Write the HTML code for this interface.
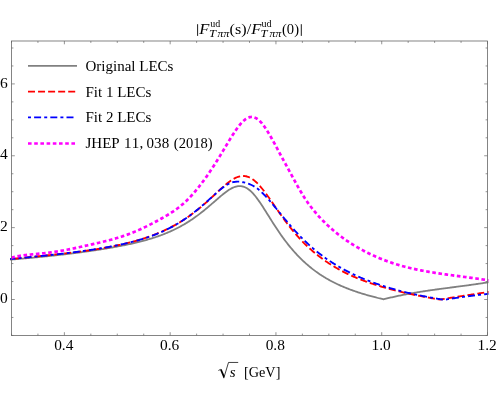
<!DOCTYPE html>
<html><head><meta charset="utf-8"><title>plot</title>
<style>
html,body{margin:0;padding:0;background:#fff;width:498px;height:400px;overflow:hidden;}
svg{display:block;font-family:"Liberation Serif",serif;will-change:transform;}
</style></head><body>
<svg width="498" height="400" viewBox="0 0 498 400">
<rect width="498" height="400" fill="#fff"/>
<defs><clipPath id="c"><rect x="10.1" y="41.0" width="478.4" height="294.5"/></clipPath></defs>
<g clip-path="url(#c)" fill="none" stroke-linejoin="round">
<path d="M10.0,259.65 L11.0,259.57 L12.0,259.49 L13.0,259.40 L14.0,259.32 L15.0,259.24 L16.0,259.15 L17.0,259.07 L18.0,258.98 L19.0,258.90 L20.0,258.81 L21.0,258.72 L22.0,258.64 L23.0,258.55 L24.0,258.46 L25.0,258.37 L26.0,258.28 L27.0,258.19 L28.0,258.10 L29.0,258.01 L30.0,257.92 L31.0,257.82 L32.0,257.73 L33.0,257.64 L34.0,257.54 L35.0,257.45 L36.0,257.35 L37.0,257.26 L38.0,257.16 L39.0,257.06 L40.0,256.96 L41.0,256.86 L42.0,256.77 L43.0,256.66 L44.0,256.56 L45.0,256.46 L46.0,256.36 L47.0,256.26 L48.0,256.15 L49.0,256.05 L50.0,255.94 L51.0,255.84 L52.0,255.73 L53.0,255.62 L54.0,255.51 L55.0,255.40 L56.0,255.29 L57.0,255.18 L58.0,255.07 L59.0,254.96 L60.0,254.85 L61.0,254.73 L62.0,254.62 L63.0,254.50 L64.0,254.38 L65.0,254.27 L66.0,254.15 L67.0,254.03 L68.0,253.91 L69.0,253.78 L70.0,253.66 L71.0,253.54 L72.0,253.41 L73.0,253.29 L74.0,253.16 L75.0,253.04 L76.0,252.91 L77.0,252.78 L78.0,252.65 L79.0,252.52 L80.0,252.39 L81.0,252.25 L82.0,252.12 L83.0,251.98 L84.0,251.85 L85.0,251.71 L86.0,251.57 L87.0,251.43 L88.0,251.29 L89.0,251.15 L90.0,251.00 L91.0,250.86 L92.0,250.71 L93.0,250.56 L94.0,250.42 L95.0,250.27 L96.0,250.12 L97.0,249.96 L98.0,249.81 L99.0,249.66 L100.0,249.50 L101.0,249.34 L102.0,249.18 L103.0,249.02 L104.0,248.86 L105.0,248.70 L106.0,248.53 L107.0,248.37 L108.0,248.20 L109.0,248.03 L110.0,247.86 L111.0,247.69 L112.0,247.51 L113.0,247.33 L114.0,247.16 L115.0,246.98 L116.0,246.80 L117.0,246.61 L118.0,246.43 L119.0,246.24 L120.0,246.05 L121.0,245.86 L122.0,245.66 L123.0,245.47 L124.0,245.27 L125.0,245.07 L126.0,244.86 L127.0,244.66 L128.0,244.45 L129.0,244.24 L130.0,244.02 L131.0,243.80 L132.0,243.58 L133.0,243.35 L134.0,243.12 L135.0,242.89 L136.0,242.66 L137.0,242.42 L138.0,242.17 L139.0,241.93 L140.0,241.67 L141.0,241.42 L142.0,241.16 L143.0,240.89 L144.0,240.62 L145.0,240.35 L146.0,240.07 L147.0,239.79 L148.0,239.50 L149.0,239.21 L150.0,238.91 L151.0,238.60 L152.0,238.29 L153.0,237.98 L154.0,237.65 L155.0,237.33 L156.0,236.99 L157.0,236.65 L158.0,236.30 L159.0,235.95 L160.0,235.59 L161.0,235.22 L162.0,234.85 L163.0,234.47 L164.0,234.08 L165.0,233.68 L166.0,233.27 L167.0,232.86 L168.0,232.44 L169.0,232.01 L170.0,231.57 L171.0,231.13 L172.0,230.67 L173.0,230.21 L174.0,229.73 L175.0,229.25 L176.0,228.76 L177.0,228.25 L178.0,227.74 L179.0,227.22 L180.0,226.68 L181.0,226.14 L182.0,225.58 L183.0,225.01 L184.0,224.44 L185.0,223.85 L186.0,223.25 L187.0,222.63 L188.0,222.01 L189.0,221.37 L190.0,220.73 L191.0,220.07 L192.0,219.40 L193.0,218.71 L194.0,218.02 L195.0,217.31 L196.0,216.59 L197.0,215.86 L198.0,215.12 L199.0,214.37 L200.0,213.60 L201.0,212.83 L202.0,212.04 L203.0,211.25 L204.0,210.44 L205.0,209.62 L206.0,208.80 L207.0,207.97 L208.0,207.12 L209.0,206.28 L210.0,205.42 L211.0,204.56 L212.0,203.69 L213.0,202.82 L214.0,201.95 L215.0,201.08 L216.0,200.20 L217.0,199.33 L218.0,198.46 L219.0,197.60 L220.0,196.75 L221.0,195.90 L222.0,195.07 L223.0,194.26 L224.0,193.46 L225.0,192.68 L226.0,191.93 L227.0,191.20 L228.0,190.51 L229.0,189.85 L230.0,189.23 L231.0,188.66 L232.0,188.13 L233.0,187.65 L234.0,187.23 L235.0,186.87 L236.0,186.56 L237.0,186.33 L238.0,186.17 L239.0,186.07 L240.0,186.06 L241.0,186.12 L242.0,186.27 L243.0,186.50 L244.0,186.82 L245.0,187.22 L246.0,187.71 L247.0,188.28 L248.0,188.94 L249.0,189.69 L250.0,190.52 L251.0,191.42 L252.0,192.41 L253.0,193.47 L254.0,194.59 L255.0,195.78 L256.0,197.04 L257.0,198.35 L258.0,199.70 L259.0,201.11 L260.0,202.56 L261.0,204.04 L262.0,205.55 L263.0,207.09 L264.0,208.65 L265.0,210.22 L266.0,211.81 L267.0,213.40 L268.0,215.00 L269.0,216.60 L270.0,218.20 L271.0,219.80 L272.0,221.38 L273.0,222.95 L274.0,224.52 L275.0,226.06 L276.0,227.59 L277.0,229.11 L278.0,230.60 L279.0,232.07 L280.0,233.53 L281.0,234.96 L282.0,236.37 L283.0,237.75 L284.0,239.12 L285.0,240.46 L286.0,241.78 L287.0,243.07 L288.0,244.34 L289.0,245.59 L290.0,246.82 L291.0,248.02 L292.0,249.20 L293.0,250.36 L294.0,251.50 L295.0,252.61 L296.0,253.71 L297.0,254.78 L298.0,255.83 L299.0,256.87 L300.0,257.88 L301.0,258.87 L302.0,259.85 L303.0,260.80 L304.0,261.74 L305.0,262.66 L306.0,263.56 L307.0,264.44 L308.0,265.30 L309.0,266.15 L310.0,266.98 L311.0,267.79 L312.0,268.59 L313.0,269.37 L314.0,270.14 L315.0,270.89 L316.0,271.62 L317.0,272.34 L318.0,273.05 L319.0,273.74 L320.0,274.41 L321.0,275.07 L322.0,275.72 L323.0,276.35 L324.0,276.97 L325.0,277.58 L326.0,278.18 L327.0,278.76 L328.0,279.33 L329.0,279.89 L330.0,280.44 L331.0,280.98 L332.0,281.51 L333.0,282.02 L334.0,282.53 L335.0,283.03 L336.0,283.52 L337.0,283.99 L338.0,284.46 L339.0,284.92 L340.0,285.38 L341.0,285.82 L342.0,286.26 L343.0,286.68 L344.0,287.10 L345.0,287.52 L346.0,287.92 L347.0,288.32 L348.0,288.71 L349.0,289.10 L350.0,289.47 L351.0,289.85 L352.0,290.21 L353.0,290.57 L354.0,290.93 L355.0,291.27 L356.0,291.62 L357.0,291.95 L358.0,292.28 L359.0,292.61 L360.0,292.93 L361.0,293.25 L362.0,293.56 L363.0,293.87 L364.0,294.17 L365.0,294.47 L366.0,294.76 L367.0,295.05 L368.0,295.34 L369.0,295.62 L370.0,295.90 L371.0,296.17 L372.0,296.44 L373.0,296.71 L374.0,296.97 L375.0,297.23 L376.0,297.49 L377.0,297.75 L378.0,298.00 L379.0,298.25 L380.0,298.49 L381.0,298.73 L382.0,298.97 L383.0,299.21 L383.5,299.33 L384.0,299.20 L385.0,298.95 L386.0,298.70 L387.0,298.45 L388.0,298.21 L389.0,297.97 L390.0,297.73 L391.0,297.49 L392.0,297.26 L393.0,297.03 L394.0,296.80 L395.0,296.58 L396.0,296.36 L397.0,296.14 L398.0,295.93 L399.0,295.71 L400.0,295.51 L401.0,295.30 L402.0,295.10 L403.0,294.90 L404.0,294.70 L405.0,294.50 L406.0,294.31 L407.0,294.12 L408.0,293.93 L409.0,293.75 L410.0,293.57 L411.0,293.39 L412.0,293.21 L413.0,293.04 L414.0,292.86 L415.0,292.69 L416.0,292.52 L417.0,292.36 L418.0,292.19 L419.0,292.03 L420.0,291.87 L421.0,291.71 L422.0,291.56 L423.0,291.40 L424.0,291.25 L425.0,291.10 L426.0,290.95 L427.0,290.80 L428.0,290.65 L429.0,290.50 L430.0,290.36 L431.0,290.21 L432.0,290.07 L433.0,289.93 L434.0,289.79 L435.0,289.65 L436.0,289.51 L437.0,289.37 L438.0,289.24 L439.0,289.10 L440.0,288.97 L441.0,288.83 L442.0,288.70 L443.0,288.56 L444.0,288.43 L445.0,288.30 L446.0,288.17 L447.0,288.03 L448.0,287.90 L449.0,287.77 L450.0,287.64 L451.0,287.51 L452.0,287.38 L453.0,287.25 L454.0,287.12 L455.0,286.99 L456.0,286.86 L457.0,286.73 L458.0,286.60 L459.0,286.47 L460.0,286.33 L461.0,286.20 L462.0,286.07 L463.0,285.94 L464.0,285.80 L465.0,285.67 L466.0,285.54 L467.0,285.40 L468.0,285.27 L469.0,285.13 L470.0,284.99 L471.0,284.86 L472.0,284.72 L473.0,284.58 L474.0,284.44 L475.0,284.30 L476.0,284.16 L477.0,284.01 L478.0,283.87 L479.0,283.72 L480.0,283.58 L481.0,283.43 L482.0,283.28 L483.0,283.13 L484.0,282.98 L485.0,282.82 L486.0,282.67 L487.0,282.51 L488.0,282.35 L489.0,282.20" stroke="#808080" stroke-width="1.8"/>
<path d="M10.0,259.11 L11.0,259.00 L12.0,258.90 L13.0,258.80 L14.0,258.69 L15.0,258.59 L16.0,258.49 L17.0,258.39 L18.0,258.29 L19.0,258.18 L20.0,258.08 L21.0,257.98 L22.0,257.88 L23.0,257.78 L24.0,257.68 L25.0,257.58 L26.0,257.48 L27.0,257.38 L28.0,257.28 L29.0,257.18 L30.0,257.08 L31.0,256.98 L32.0,256.88 L33.0,256.78 L34.0,256.68 L35.0,256.58 L36.0,256.48 L37.0,256.38 L38.0,256.28 L39.0,256.17 L40.0,256.07 L41.0,255.97 L42.0,255.87 L43.0,255.77 L44.0,255.67 L45.0,255.56 L46.0,255.46 L47.0,255.36 L48.0,255.26 L49.0,255.15 L50.0,255.05 L51.0,254.94 L52.0,254.84 L53.0,254.73 L54.0,254.63 L55.0,254.52 L56.0,254.41 L57.0,254.30 L58.0,254.19 L59.0,254.09 L60.0,253.98 L61.0,253.86 L62.0,253.75 L63.0,253.64 L64.0,253.53 L65.0,253.41 L66.0,253.30 L67.0,253.18 L68.0,253.07 L69.0,252.95 L70.0,252.83 L71.0,252.71 L72.0,252.59 L73.0,252.47 L74.0,252.35 L75.0,252.22 L76.0,252.10 L77.0,251.97 L78.0,251.84 L79.0,251.71 L80.0,251.58 L81.0,251.45 L82.0,251.32 L83.0,251.18 L84.0,251.05 L85.0,250.91 L86.0,250.77 L87.0,250.63 L88.0,250.49 L89.0,250.34 L90.0,250.20 L91.0,250.05 L92.0,249.90 L93.0,249.75 L94.0,249.60 L95.0,249.44 L96.0,249.29 L97.0,249.13 L98.0,248.97 L99.0,248.80 L100.0,248.64 L101.0,248.47 L102.0,248.30 L103.0,248.13 L104.0,247.96 L105.0,247.78 L106.0,247.60 L107.0,247.42 L108.0,247.24 L109.0,247.05 L110.0,246.86 L111.0,246.67 L112.0,246.47 L113.0,246.27 L114.0,246.07 L115.0,245.87 L116.0,245.66 L117.0,245.45 L118.0,245.24 L119.0,245.03 L120.0,244.81 L121.0,244.58 L122.0,244.36 L123.0,244.13 L124.0,243.89 L125.0,243.66 L126.0,243.42 L127.0,243.17 L128.0,242.92 L129.0,242.67 L130.0,242.42 L131.0,242.16 L132.0,241.89 L133.0,241.62 L134.0,241.35 L135.0,241.07 L136.0,240.79 L137.0,240.50 L138.0,240.21 L139.0,239.92 L140.0,239.61 L141.0,239.31 L142.0,239.00 L143.0,238.68 L144.0,238.36 L145.0,238.03 L146.0,237.70 L147.0,237.36 L148.0,237.02 L149.0,236.67 L150.0,236.31 L151.0,235.95 L152.0,235.58 L153.0,235.20 L154.0,234.82 L155.0,234.43 L156.0,234.04 L157.0,233.64 L158.0,233.23 L159.0,232.81 L160.0,232.39 L161.0,231.96 L162.0,231.52 L163.0,231.08 L164.0,230.62 L165.0,230.16 L166.0,229.69 L167.0,229.21 L168.0,228.73 L169.0,228.23 L170.0,227.73 L171.0,227.21 L172.0,226.69 L173.0,226.16 L174.0,225.62 L175.0,225.07 L176.0,224.51 L177.0,223.94 L178.0,223.36 L179.0,222.77 L180.0,222.17 L181.0,221.55 L182.0,220.93 L183.0,220.30 L184.0,219.65 L185.0,219.00 L186.0,218.33 L187.0,217.65 L188.0,216.97 L189.0,216.26 L190.0,215.55 L191.0,214.83 L192.0,214.09 L193.0,213.35 L194.0,212.59 L195.0,211.82 L196.0,211.03 L197.0,210.24 L198.0,209.44 L199.0,208.62 L200.0,207.80 L201.0,206.96 L202.0,206.11 L203.0,205.25 L204.0,204.38 L205.0,203.51 L206.0,202.62 L207.0,201.72 L208.0,200.82 L209.0,199.91 L210.0,198.99 L211.0,198.07 L212.0,197.14 L213.0,196.21 L214.0,195.27 L215.0,194.34 L216.0,193.40 L217.0,192.46 L218.0,191.53 L219.0,190.60 L220.0,189.68 L221.0,188.76 L222.0,187.85 L223.0,186.96 L224.0,186.08 L225.0,185.22 L226.0,184.37 L227.0,183.55 L228.0,182.76 L229.0,181.99 L230.0,181.26 L231.0,180.56 L232.0,179.89 L233.0,179.27 L234.0,178.69 L235.0,178.16 L236.0,177.68 L237.0,177.25 L238.0,176.88 L239.0,176.57 L240.0,176.32 L241.0,176.14 L242.0,176.02 L243.0,175.98 L244.0,176.00 L245.0,176.10 L246.0,176.27 L247.0,176.51 L248.0,176.83 L249.0,177.23 L250.0,177.69 L251.0,178.24 L252.0,178.85 L253.0,179.54 L254.0,180.29 L255.0,181.12 L256.0,182.00 L257.0,182.95 L258.0,183.95 L259.0,185.01 L260.0,186.13 L261.0,187.29 L262.0,188.49 L263.0,189.73 L264.0,191.01 L265.0,192.32 L266.0,193.67 L267.0,195.03 L268.0,196.42 L269.0,197.83 L270.0,199.25 L271.0,200.68 L272.0,202.13 L273.0,203.57 L274.0,205.02 L275.0,206.48 L276.0,207.93 L277.0,209.37 L278.0,210.81 L279.0,212.25 L280.0,213.67 L281.0,215.08 L282.0,216.48 L283.0,217.87 L284.0,219.25 L285.0,220.60 L286.0,221.95 L287.0,223.27 L288.0,224.58 L289.0,225.88 L290.0,227.15 L291.0,228.40 L292.0,229.64 L293.0,230.86 L294.0,232.06 L295.0,233.24 L296.0,234.40 L297.0,235.55 L298.0,236.67 L299.0,237.78 L300.0,238.87 L301.0,239.94 L302.0,240.99 L303.0,242.03 L304.0,243.04 L305.0,244.04 L306.0,245.02 L307.0,245.99 L308.0,246.94 L309.0,247.87 L310.0,248.78 L311.0,249.68 L312.0,250.56 L313.0,251.43 L314.0,252.28 L315.0,253.12 L316.0,253.95 L317.0,254.75 L318.0,255.55 L319.0,256.33 L320.0,257.10 L321.0,257.85 L322.0,258.59 L323.0,259.32 L324.0,260.04 L325.0,260.74 L326.0,261.43 L327.0,262.11 L328.0,262.78 L329.0,263.44 L330.0,264.08 L331.0,264.72 L332.0,265.34 L333.0,265.96 L334.0,266.56 L335.0,267.16 L336.0,267.74 L337.0,268.32 L338.0,268.88 L339.0,269.44 L340.0,269.98 L341.0,270.52 L342.0,271.05 L343.0,271.57 L344.0,272.08 L345.0,272.59 L346.0,273.08 L347.0,273.57 L348.0,274.05 L349.0,274.52 L350.0,274.99 L351.0,275.45 L352.0,275.90 L353.0,276.34 L354.0,276.78 L355.0,277.21 L356.0,277.64 L357.0,278.05 L358.0,278.47 L359.0,278.87 L360.0,279.27 L361.0,279.67 L362.0,280.06 L363.0,280.44 L364.0,280.82 L365.0,281.19 L366.0,281.56 L367.0,281.92 L368.0,282.28 L369.0,282.63 L370.0,282.98 L371.0,283.32 L372.0,283.66 L373.0,283.99 L374.0,284.32 L375.0,284.65 L376.0,284.97 L377.0,285.28 L378.0,285.60 L379.0,285.91 L380.0,286.21 L381.0,286.51 L382.0,286.81 L383.0,287.10 L384.0,287.39 L385.0,287.68 L386.0,287.96 L387.0,288.24 L388.0,288.52 L389.0,288.79 L390.0,289.06 L391.0,289.33 L392.0,289.59 L393.0,289.85 L394.0,290.11 L395.0,290.37 L396.0,290.62 L397.0,290.87 L398.0,291.12 L399.0,291.36 L400.0,291.60 L401.0,291.84 L402.0,292.08 L403.0,292.31 L404.0,292.54 L405.0,292.77 L406.0,293.00 L407.0,293.22 L408.0,293.45 L409.0,293.67 L410.0,293.89 L411.0,294.10 L412.0,294.32 L413.0,294.53 L414.0,294.74 L415.0,294.95 L416.0,295.15 L417.0,295.36 L418.0,295.56 L419.0,295.76 L420.0,295.96 L421.0,296.16 L422.0,296.35 L423.0,296.55 L424.0,296.74 L425.0,296.93 L426.0,297.12 L427.0,297.31 L428.0,297.49 L429.0,297.68 L430.0,297.86 L431.0,298.04 L432.0,298.22 L433.0,298.40 L434.0,298.57 L435.0,298.75 L436.0,298.92 L437.0,299.09 L438.0,299.26 L439.0,299.43 L440.0,299.60 L440.0,299.60 L441.0,299.43 L442.0,299.26 L443.0,299.09 L444.0,298.92 L445.0,298.75 L446.0,298.59 L447.0,298.42 L448.0,298.26 L449.0,298.10 L450.0,297.94 L451.0,297.77 L452.0,297.61 L453.0,297.45 L454.0,297.29 L455.0,297.13 L456.0,296.98 L457.0,296.82 L458.0,296.66 L459.0,296.51 L460.0,296.35 L461.0,296.19 L462.0,296.04 L463.0,295.88 L464.0,295.73 L465.0,295.57 L466.0,295.42 L467.0,295.26 L468.0,295.11 L469.0,294.95 L470.0,294.80 L471.0,294.65 L472.0,294.49 L473.0,294.34 L474.0,294.18 L475.0,294.03 L476.0,293.87 L477.0,293.72 L478.0,293.57 L479.0,293.41 L480.0,293.26 L481.0,293.10 L482.0,292.94 L483.0,292.79 L484.0,292.63 L485.0,292.47 L486.0,292.32 L487.0,292.16 L488.0,292.00 L489.0,291.84" stroke="#ff0000" stroke-width="1.85" stroke-dasharray="7 3" stroke-dashoffset="-4.5"/>
<path d="M10.0,259.03 L11.0,258.94 L12.0,258.84 L13.0,258.75 L14.0,258.66 L15.0,258.57 L16.0,258.47 L17.0,258.38 L18.0,258.29 L19.0,258.19 L20.0,258.10 L21.0,258.01 L22.0,257.91 L23.0,257.82 L24.0,257.72 L25.0,257.62 L26.0,257.53 L27.0,257.43 L28.0,257.34 L29.0,257.24 L30.0,257.14 L31.0,257.04 L32.0,256.94 L33.0,256.84 L34.0,256.75 L35.0,256.65 L36.0,256.54 L37.0,256.44 L38.0,256.34 L39.0,256.24 L40.0,256.14 L41.0,256.04 L42.0,255.93 L43.0,255.83 L44.0,255.72 L45.0,255.62 L46.0,255.51 L47.0,255.41 L48.0,255.30 L49.0,255.19 L50.0,255.08 L51.0,254.98 L52.0,254.87 L53.0,254.76 L54.0,254.64 L55.0,254.53 L56.0,254.42 L57.0,254.31 L58.0,254.19 L59.0,254.08 L60.0,253.96 L61.0,253.85 L62.0,253.73 L63.0,253.61 L64.0,253.49 L65.0,253.37 L66.0,253.25 L67.0,253.13 L68.0,253.01 L69.0,252.89 L70.0,252.76 L71.0,252.64 L72.0,252.51 L73.0,252.38 L74.0,252.25 L75.0,252.12 L76.0,251.99 L77.0,251.86 L78.0,251.73 L79.0,251.59 L80.0,251.46 L81.0,251.32 L82.0,251.18 L83.0,251.04 L84.0,250.90 L85.0,250.76 L86.0,250.62 L87.0,250.47 L88.0,250.33 L89.0,250.18 L90.0,250.03 L91.0,249.88 L92.0,249.73 L93.0,249.57 L94.0,249.42 L95.0,249.26 L96.0,249.10 L97.0,248.94 L98.0,248.78 L99.0,248.62 L100.0,248.45 L101.0,248.28 L102.0,248.11 L103.0,247.94 L104.0,247.77 L105.0,247.59 L106.0,247.42 L107.0,247.24 L108.0,247.05 L109.0,246.87 L110.0,246.68 L111.0,246.50 L112.0,246.30 L113.0,246.11 L114.0,245.92 L115.0,245.72 L116.0,245.52 L117.0,245.32 L118.0,245.11 L119.0,244.90 L120.0,244.69 L121.0,244.48 L122.0,244.26 L123.0,244.04 L124.0,243.82 L125.0,243.59 L126.0,243.36 L127.0,243.13 L128.0,242.89 L129.0,242.65 L130.0,242.41 L131.0,242.16 L132.0,241.91 L133.0,241.66 L134.0,241.39 L135.0,241.13 L136.0,240.86 L137.0,240.59 L138.0,240.31 L139.0,240.02 L140.0,239.73 L141.0,239.44 L142.0,239.14 L143.0,238.83 L144.0,238.52 L145.0,238.20 L146.0,237.88 L147.0,237.55 L148.0,237.21 L149.0,236.87 L150.0,236.52 L151.0,236.17 L152.0,235.80 L153.0,235.43 L154.0,235.06 L155.0,234.67 L156.0,234.28 L157.0,233.88 L158.0,233.47 L159.0,233.06 L160.0,232.63 L161.0,232.20 L162.0,231.76 L163.0,231.31 L164.0,230.86 L165.0,230.39 L166.0,229.91 L167.0,229.43 L168.0,228.93 L169.0,228.43 L170.0,227.92 L171.0,227.39 L172.0,226.86 L173.0,226.32 L174.0,225.76 L175.0,225.20 L176.0,224.63 L177.0,224.04 L178.0,223.44 L179.0,222.84 L180.0,222.22 L181.0,221.59 L182.0,220.95 L183.0,220.30 L184.0,219.64 L185.0,218.97 L186.0,218.28 L187.0,217.59 L188.0,216.88 L189.0,216.16 L190.0,215.43 L191.0,214.69 L192.0,213.94 L193.0,213.18 L194.0,212.40 L195.0,211.62 L196.0,210.82 L197.0,210.02 L198.0,209.20 L199.0,208.37 L200.0,207.54 L201.0,206.70 L202.0,205.84 L203.0,204.98 L204.0,204.11 L205.0,203.24 L206.0,202.35 L207.0,201.47 L208.0,200.57 L209.0,199.67 L210.0,198.77 L211.0,197.87 L212.0,196.96 L213.0,196.05 L214.0,195.14 L215.0,194.24 L216.0,193.34 L217.0,192.44 L218.0,191.56 L219.0,190.68 L220.0,189.83 L221.0,189.00 L222.0,188.19 L223.0,187.42 L224.0,186.67 L225.0,185.97 L226.0,185.31 L227.0,184.69 L228.0,184.12 L229.0,183.61 L230.0,183.16 L231.0,182.77 L232.0,182.45 L233.0,182.18 L234.0,181.97 L235.0,181.81 L236.0,181.71 L237.0,181.66 L238.0,181.65 L239.0,181.69 L240.0,181.78 L241.0,181.90 L242.0,182.06 L243.0,182.25 L244.0,182.46 L245.0,182.71 L246.0,182.98 L247.0,183.27 L248.0,183.59 L249.0,183.95 L250.0,184.34 L251.0,184.77 L252.0,185.24 L253.0,185.76 L254.0,186.32 L255.0,186.94 L256.0,187.60 L257.0,188.32 L258.0,189.08 L259.0,189.89 L260.0,190.74 L261.0,191.64 L262.0,192.57 L263.0,193.53 L264.0,194.53 L265.0,195.57 L266.0,196.63 L267.0,197.71 L268.0,198.82 L269.0,199.95 L270.0,201.10 L271.0,202.27 L272.0,203.45 L273.0,204.64 L274.0,205.84 L275.0,207.05 L276.0,208.27 L277.0,209.49 L278.0,210.71 L279.0,211.94 L280.0,213.16 L281.0,214.38 L282.0,215.61 L283.0,216.82 L284.0,218.03 L285.0,219.24 L286.0,220.44 L287.0,221.63 L288.0,222.81 L289.0,223.98 L290.0,225.14 L291.0,226.29 L292.0,227.43 L293.0,228.56 L294.0,229.68 L295.0,230.78 L296.0,231.87 L297.0,232.94 L298.0,234.01 L299.0,235.06 L300.0,236.09 L301.0,237.12 L302.0,238.13 L303.0,239.12 L304.0,240.10 L305.0,241.07 L306.0,242.03 L307.0,242.97 L308.0,243.89 L309.0,244.81 L310.0,245.71 L311.0,246.60 L312.0,247.47 L313.0,248.34 L314.0,249.18 L315.0,250.02 L316.0,250.85 L317.0,251.66 L318.0,252.46 L319.0,253.25 L320.0,254.02 L321.0,254.79 L322.0,255.54 L323.0,256.29 L324.0,257.02 L325.0,257.74 L326.0,258.45 L327.0,259.15 L328.0,259.83 L329.0,260.51 L330.0,261.18 L331.0,261.84 L332.0,262.49 L333.0,263.13 L334.0,263.76 L335.0,264.38 L336.0,264.99 L337.0,265.59 L338.0,266.19 L339.0,266.77 L340.0,267.35 L341.0,267.92 L342.0,268.48 L343.0,269.03 L344.0,269.57 L345.0,270.11 L346.0,270.64 L347.0,271.16 L348.0,271.67 L349.0,272.18 L350.0,272.68 L351.0,273.17 L352.0,273.66 L353.0,274.14 L354.0,274.61 L355.0,275.07 L356.0,275.53 L357.0,275.99 L358.0,276.43 L359.0,276.87 L360.0,277.31 L361.0,277.74 L362.0,278.16 L363.0,278.58 L364.0,278.99 L365.0,279.40 L366.0,279.80 L367.0,280.19 L368.0,280.58 L369.0,280.97 L370.0,281.35 L371.0,281.73 L372.0,282.10 L373.0,282.46 L374.0,282.82 L375.0,283.18 L376.0,283.53 L377.0,283.88 L378.0,284.22 L379.0,284.56 L380.0,284.90 L381.0,285.23 L382.0,285.55 L383.0,285.88 L384.0,286.19 L385.0,286.51 L386.0,286.82 L387.0,287.12 L388.0,287.43 L389.0,287.73 L390.0,288.02 L391.0,288.31 L392.0,288.60 L393.0,288.89 L394.0,289.17 L395.0,289.45 L396.0,289.72 L397.0,289.99 L398.0,290.26 L399.0,290.53 L400.0,290.79 L401.0,291.05 L402.0,291.30 L403.0,291.56 L404.0,291.81 L405.0,292.05 L406.0,292.30 L407.0,292.54 L408.0,292.78 L409.0,293.01 L410.0,293.25 L411.0,293.48 L412.0,293.70 L413.0,293.93 L414.0,294.15 L415.0,294.37 L416.0,294.59 L417.0,294.81 L418.0,295.02 L419.0,295.23 L420.0,295.44 L421.0,295.64 L422.0,295.85 L423.0,296.05 L424.0,296.25 L425.0,296.44 L426.0,296.64 L427.0,296.83 L428.0,297.02 L429.0,297.21 L430.0,297.39 L431.0,297.58 L432.0,297.76 L433.0,297.94 L434.0,298.12 L435.0,298.30 L436.0,298.47 L437.0,298.64 L438.0,298.81 L439.0,298.98 L440.0,299.15 L441.0,299.31 L442.0,299.48 L443.0,299.64 L444.0,299.80 L444.0,299.80 L445.0,299.64 L446.0,299.47 L447.0,299.31 L448.0,299.16 L449.0,299.00 L450.0,298.84 L451.0,298.69 L452.0,298.54 L453.0,298.39 L454.0,298.24 L455.0,298.09 L456.0,297.94 L457.0,297.80 L458.0,297.65 L459.0,297.51 L460.0,297.37 L461.0,297.23 L462.0,297.09 L463.0,296.95 L464.0,296.82 L465.0,296.68 L466.0,296.55 L467.0,296.42 L468.0,296.28 L469.0,296.15 L470.0,296.03 L471.0,295.90 L472.0,295.77 L473.0,295.64 L474.0,295.52 L475.0,295.40 L476.0,295.27 L477.0,295.15 L478.0,295.03 L479.0,294.91 L480.0,294.79 L481.0,294.68 L482.0,294.56 L483.0,294.45 L484.0,294.33 L485.0,294.22 L486.0,294.11 L487.0,293.99 L488.0,293.88 L489.0,293.77" stroke="#0000ff" stroke-width="1.85" stroke-dasharray="3 3.1 7 3.1" stroke-dashoffset="-8.5"/>
<path d="M10.0,257.94 L11.0,257.69 L12.0,257.44 L13.0,257.21 L14.0,256.98 L15.0,256.77 L16.0,256.57 L17.0,256.38 L18.0,256.19 L19.0,256.02 L20.0,255.86 L21.0,255.70 L22.0,255.55 L23.0,255.41 L24.0,255.27 L25.0,255.14 L26.0,255.02 L27.0,254.90 L28.0,254.78 L29.0,254.68 L30.0,254.57 L31.0,254.47 L32.0,254.37 L33.0,254.27 L34.0,254.17 L35.0,254.08 L36.0,253.99 L37.0,253.90 L38.0,253.80 L39.0,253.71 L40.0,253.62 L41.0,253.52 L42.0,253.43 L43.0,253.33 L44.0,253.23 L45.0,253.12 L46.0,253.01 L47.0,252.90 L48.0,252.78 L49.0,252.66 L50.0,252.53 L51.0,252.40 L52.0,252.26 L53.0,252.12 L54.0,251.98 L55.0,251.83 L56.0,251.67 L57.0,251.51 L58.0,251.35 L59.0,251.18 L60.0,251.01 L61.0,250.84 L62.0,250.66 L63.0,250.48 L64.0,250.30 L65.0,250.11 L66.0,249.92 L67.0,249.73 L68.0,249.53 L69.0,249.34 L70.0,249.14 L71.0,248.93 L72.0,248.73 L73.0,248.52 L74.0,248.31 L75.0,248.10 L76.0,247.89 L77.0,247.67 L78.0,247.45 L79.0,247.24 L80.0,247.02 L81.0,246.80 L82.0,246.58 L83.0,246.35 L84.0,246.13 L85.0,245.91 L86.0,245.68 L87.0,245.46 L88.0,245.23 L89.0,245.00 L90.0,244.78 L91.0,244.55 L92.0,244.32 L93.0,244.10 L94.0,243.87 L95.0,243.64 L96.0,243.41 L97.0,243.18 L98.0,242.95 L99.0,242.71 L100.0,242.48 L101.0,242.24 L102.0,242.00 L103.0,241.76 L104.0,241.51 L105.0,241.26 L106.0,241.01 L107.0,240.76 L108.0,240.51 L109.0,240.25 L110.0,239.98 L111.0,239.71 L112.0,239.44 L113.0,239.17 L114.0,238.89 L115.0,238.60 L116.0,238.31 L117.0,238.02 L118.0,237.72 L119.0,237.42 L120.0,237.11 L121.0,236.79 L122.0,236.47 L123.0,236.14 L124.0,235.80 L125.0,235.46 L126.0,235.11 L127.0,234.76 L128.0,234.39 L129.0,234.02 L130.0,233.64 L131.0,233.26 L132.0,232.86 L133.0,232.46 L134.0,232.05 L135.0,231.63 L136.0,231.21 L137.0,230.77 L138.0,230.34 L139.0,229.89 L140.0,229.44 L141.0,228.98 L142.0,228.52 L143.0,228.05 L144.0,227.58 L145.0,227.09 L146.0,226.61 L147.0,226.12 L148.0,225.62 L149.0,225.12 L150.0,224.61 L151.0,224.10 L152.0,223.59 L153.0,223.07 L154.0,222.54 L155.0,222.01 L156.0,221.48 L157.0,220.95 L158.0,220.41 L159.0,219.86 L160.0,219.31 L161.0,218.76 L162.0,218.21 L163.0,217.65 L164.0,217.08 L165.0,216.50 L166.0,215.92 L167.0,215.33 L168.0,214.73 L169.0,214.12 L170.0,213.49 L171.0,212.86 L172.0,212.21 L173.0,211.55 L174.0,210.87 L175.0,210.17 L176.0,209.46 L177.0,208.73 L178.0,207.98 L179.0,207.21 L180.0,206.42 L181.0,205.61 L182.0,204.78 L183.0,203.92 L184.0,203.03 L185.0,202.12 L186.0,201.19 L187.0,200.22 L188.0,199.23 L189.0,198.22 L190.0,197.18 L191.0,196.11 L192.0,195.02 L193.0,193.91 L194.0,192.77 L195.0,191.61 L196.0,190.42 L197.0,189.21 L198.0,187.98 L199.0,186.73 L200.0,185.45 L201.0,184.16 L202.0,182.84 L203.0,181.50 L204.0,180.15 L205.0,178.77 L206.0,177.38 L207.0,175.96 L208.0,174.52 L209.0,173.07 L210.0,171.59 L211.0,170.10 L212.0,168.59 L213.0,167.05 L214.0,165.50 L215.0,163.94 L216.0,162.35 L217.0,160.75 L218.0,159.14 L219.0,157.51 L220.0,155.87 L221.0,154.22 L222.0,152.56 L223.0,150.89 L224.0,149.22 L225.0,147.55 L226.0,145.88 L227.0,144.21 L228.0,142.54 L229.0,140.89 L230.0,139.25 L231.0,137.62 L232.0,136.02 L233.0,134.45 L234.0,132.90 L235.0,131.40 L236.0,129.93 L237.0,128.51 L238.0,127.15 L239.0,125.85 L240.0,124.61 L241.0,123.44 L242.0,122.35 L243.0,121.34 L244.0,120.43 L245.0,119.61 L246.0,118.89 L247.0,118.28 L248.0,117.77 L249.0,117.39 L250.0,117.12 L251.0,116.98 L252.0,116.96 L253.0,117.07 L254.0,117.31 L255.0,117.67 L256.0,118.15 L257.0,118.76 L258.0,119.48 L259.0,120.32 L260.0,121.27 L261.0,122.33 L262.0,123.48 L263.0,124.73 L264.0,126.07 L265.0,127.48 L266.0,128.97 L267.0,130.53 L268.0,132.14 L269.0,133.80 L270.0,135.51 L271.0,137.25 L272.0,139.02 L273.0,140.82 L274.0,142.64 L275.0,144.48 L276.0,146.32 L277.0,148.18 L278.0,150.04 L279.0,151.91 L280.0,153.77 L281.0,155.63 L282.0,157.49 L283.0,159.34 L284.0,161.19 L285.0,163.03 L286.0,164.87 L287.0,166.71 L288.0,168.55 L289.0,170.38 L290.0,172.22 L291.0,174.06 L292.0,175.90 L293.0,177.73 L294.0,179.57 L295.0,181.40 L296.0,183.22 L297.0,185.03 L298.0,186.82 L299.0,188.59 L300.0,190.33 L301.0,192.04 L302.0,193.72 L303.0,195.36 L304.0,196.95 L305.0,198.50 L306.0,200.01 L307.0,201.48 L308.0,202.91 L309.0,204.31 L310.0,205.67 L311.0,206.99 L312.0,208.28 L313.0,209.55 L314.0,210.78 L315.0,211.98 L316.0,213.15 L317.0,214.31 L318.0,215.43 L319.0,216.54 L320.0,217.62 L321.0,218.68 L322.0,219.73 L323.0,220.75 L324.0,221.76 L325.0,222.75 L326.0,223.73 L327.0,224.68 L328.0,225.62 L329.0,226.55 L330.0,227.46 L331.0,228.35 L332.0,229.23 L333.0,230.09 L334.0,230.94 L335.0,231.77 L336.0,232.59 L337.0,233.40 L338.0,234.19 L339.0,234.97 L340.0,235.74 L341.0,236.49 L342.0,237.24 L343.0,237.97 L344.0,238.69 L345.0,239.39 L346.0,240.09 L347.0,240.78 L348.0,241.45 L349.0,242.12 L350.0,242.77 L351.0,243.42 L352.0,244.05 L353.0,244.68 L354.0,245.29 L355.0,245.90 L356.0,246.49 L357.0,247.08 L358.0,247.66 L359.0,248.23 L360.0,248.79 L361.0,249.34 L362.0,249.89 L363.0,250.43 L364.0,250.95 L365.0,251.47 L366.0,251.99 L367.0,252.49 L368.0,252.99 L369.0,253.48 L370.0,253.96 L371.0,254.44 L372.0,254.91 L373.0,255.37 L374.0,255.82 L375.0,256.27 L376.0,256.71 L377.0,257.14 L378.0,257.57 L379.0,257.99 L380.0,258.40 L381.0,258.81 L382.0,259.21 L383.0,259.60 L384.0,259.99 L385.0,260.37 L386.0,260.75 L387.0,261.12 L388.0,261.48 L389.0,261.84 L390.0,262.19 L391.0,262.53 L392.0,262.87 L393.0,263.21 L394.0,263.53 L395.0,263.86 L396.0,264.17 L397.0,264.48 L398.0,264.79 L399.0,265.08 L400.0,265.38 L401.0,265.66 L402.0,265.95 L403.0,266.22 L404.0,266.49 L405.0,266.76 L406.0,267.02 L407.0,267.27 L408.0,267.52 L409.0,267.77 L410.0,268.01 L411.0,268.25 L412.0,268.48 L413.0,268.71 L414.0,268.93 L415.0,269.15 L416.0,269.37 L417.0,269.58 L418.0,269.79 L419.0,269.99 L420.0,270.19 L421.0,270.39 L422.0,270.58 L423.0,270.77 L424.0,270.96 L425.0,271.15 L426.0,271.33 L427.0,271.51 L428.0,271.68 L429.0,271.85 L430.0,272.02 L431.0,272.19 L432.0,272.36 L433.0,272.52 L434.0,272.68 L435.0,272.84 L436.0,273.00 L437.0,273.15 L438.0,273.30 L439.0,273.45 L440.0,273.60 L441.0,273.75 L442.0,273.90 L443.0,274.04 L444.0,274.18 L445.0,274.32 L446.0,274.46 L447.0,274.60 L448.0,274.74 L449.0,274.88 L450.0,275.01 L451.0,275.15 L452.0,275.28 L453.0,275.42 L454.0,275.55 L455.0,275.68 L456.0,275.82 L457.0,275.95 L458.0,276.08 L459.0,276.21 L460.0,276.34 L461.0,276.48 L462.0,276.61 L463.0,276.74 L464.0,276.87 L465.0,277.00 L466.0,277.13 L467.0,277.27 L468.0,277.40 L469.0,277.53 L470.0,277.67 L471.0,277.80 L472.0,277.94 L473.0,278.07 L474.0,278.21 L475.0,278.35 L476.0,278.49 L477.0,278.63 L478.0,278.77 L479.0,278.91 L480.0,279.06 L481.0,279.20 L482.0,279.35 L483.0,279.50 L484.0,279.65 L485.0,279.80 L486.0,279.95 L487.0,280.11 L488.0,280.27 L489.0,280.42" stroke="#ff00ff" stroke-width="2.7" stroke-dasharray="3.6 2.6" stroke-dashoffset="-1.4"/>
</g>
<g stroke="#666" stroke-width="0.7" fill="none">
<line x1="11.50" y1="335.5" x2="11.50" y2="333.6"/>
<line x1="11.50" y1="41.0" x2="11.50" y2="42.9"/>
<line x1="37.94" y1="335.5" x2="37.94" y2="333.6"/>
<line x1="37.94" y1="41.0" x2="37.94" y2="42.9"/>
<line x1="64.39" y1="335.5" x2="64.39" y2="332.2"/>
<line x1="64.39" y1="41.0" x2="64.39" y2="44.3"/>
<line x1="90.83" y1="335.5" x2="90.83" y2="333.6"/>
<line x1="90.83" y1="41.0" x2="90.83" y2="42.9"/>
<line x1="117.28" y1="335.5" x2="117.28" y2="333.6"/>
<line x1="117.28" y1="41.0" x2="117.28" y2="42.9"/>
<line x1="143.72" y1="335.5" x2="143.72" y2="333.6"/>
<line x1="143.72" y1="41.0" x2="143.72" y2="42.9"/>
<line x1="170.17" y1="335.5" x2="170.17" y2="332.2"/>
<line x1="170.17" y1="41.0" x2="170.17" y2="44.3"/>
<line x1="196.61" y1="335.5" x2="196.61" y2="333.6"/>
<line x1="196.61" y1="41.0" x2="196.61" y2="42.9"/>
<line x1="223.06" y1="335.5" x2="223.06" y2="333.6"/>
<line x1="223.06" y1="41.0" x2="223.06" y2="42.9"/>
<line x1="249.50" y1="335.5" x2="249.50" y2="333.6"/>
<line x1="249.50" y1="41.0" x2="249.50" y2="42.9"/>
<line x1="275.94" y1="335.5" x2="275.94" y2="332.2"/>
<line x1="275.94" y1="41.0" x2="275.94" y2="44.3"/>
<line x1="302.39" y1="335.5" x2="302.39" y2="333.6"/>
<line x1="302.39" y1="41.0" x2="302.39" y2="42.9"/>
<line x1="328.83" y1="335.5" x2="328.83" y2="333.6"/>
<line x1="328.83" y1="41.0" x2="328.83" y2="42.9"/>
<line x1="355.28" y1="335.5" x2="355.28" y2="333.6"/>
<line x1="355.28" y1="41.0" x2="355.28" y2="42.9"/>
<line x1="381.72" y1="335.5" x2="381.72" y2="332.2"/>
<line x1="381.72" y1="41.0" x2="381.72" y2="44.3"/>
<line x1="408.17" y1="335.5" x2="408.17" y2="333.6"/>
<line x1="408.17" y1="41.0" x2="408.17" y2="42.9"/>
<line x1="434.61" y1="335.5" x2="434.61" y2="333.6"/>
<line x1="434.61" y1="41.0" x2="434.61" y2="42.9"/>
<line x1="461.06" y1="335.5" x2="461.06" y2="333.6"/>
<line x1="461.06" y1="41.0" x2="461.06" y2="42.9"/>
<line x1="487.50" y1="335.5" x2="487.50" y2="332.2"/>
<line x1="487.50" y1="41.0" x2="487.50" y2="44.3"/>
<line x1="11.5" y1="335.43" x2="13.4" y2="335.43"/>
<line x1="487.5" y1="335.43" x2="485.6" y2="335.43"/>
<line x1="11.5" y1="317.46" x2="13.4" y2="317.46"/>
<line x1="487.5" y1="317.46" x2="485.6" y2="317.46"/>
<line x1="11.5" y1="299.50" x2="14.8" y2="299.50"/>
<line x1="487.5" y1="299.50" x2="484.2" y2="299.50"/>
<line x1="11.5" y1="281.54" x2="13.4" y2="281.54"/>
<line x1="487.5" y1="281.54" x2="485.6" y2="281.54"/>
<line x1="11.5" y1="263.57" x2="13.4" y2="263.57"/>
<line x1="487.5" y1="263.57" x2="485.6" y2="263.57"/>
<line x1="11.5" y1="245.61" x2="13.4" y2="245.61"/>
<line x1="487.5" y1="245.61" x2="485.6" y2="245.61"/>
<line x1="11.5" y1="227.64" x2="14.8" y2="227.64"/>
<line x1="487.5" y1="227.64" x2="484.2" y2="227.64"/>
<line x1="11.5" y1="209.68" x2="13.4" y2="209.68"/>
<line x1="487.5" y1="209.68" x2="485.6" y2="209.68"/>
<line x1="11.5" y1="191.71" x2="13.4" y2="191.71"/>
<line x1="487.5" y1="191.71" x2="485.6" y2="191.71"/>
<line x1="11.5" y1="173.75" x2="13.4" y2="173.75"/>
<line x1="487.5" y1="173.75" x2="485.6" y2="173.75"/>
<line x1="11.5" y1="155.78" x2="14.8" y2="155.78"/>
<line x1="487.5" y1="155.78" x2="484.2" y2="155.78"/>
<line x1="11.5" y1="137.81" x2="13.4" y2="137.81"/>
<line x1="487.5" y1="137.81" x2="485.6" y2="137.81"/>
<line x1="11.5" y1="119.85" x2="13.4" y2="119.85"/>
<line x1="487.5" y1="119.85" x2="485.6" y2="119.85"/>
<line x1="11.5" y1="101.88" x2="13.4" y2="101.88"/>
<line x1="487.5" y1="101.88" x2="485.6" y2="101.88"/>
<line x1="11.5" y1="83.92" x2="14.8" y2="83.92"/>
<line x1="487.5" y1="83.92" x2="484.2" y2="83.92"/>
<line x1="11.5" y1="65.96" x2="13.4" y2="65.96"/>
<line x1="487.5" y1="65.96" x2="485.6" y2="65.96"/>
<line x1="11.5" y1="47.99" x2="13.4" y2="47.99"/>
<line x1="487.5" y1="47.99" x2="485.6" y2="47.99"/>
</g>
<rect x="11.5" y="41.0" width="476.0" height="294.5" fill="none" stroke="#666" stroke-width="0.8"/>
<g fill="none">
<line x1="28" y1="65.9" x2="77" y2="65.9" stroke="#808080" stroke-width="1.8"/>
<line x1="28" y1="91.7" x2="75.3" y2="91.7" stroke="#ff0000" stroke-width="1.8" stroke-dasharray="7 3.05"/>
<line x1="28" y1="117.4" x2="73.8" y2="117.4" stroke="#0000ff" stroke-width="1.8" stroke-dasharray="3 3.1 7 3.1"/>
<line x1="28" y1="143.5" x2="77" y2="143.5" stroke="#ff00ff" stroke-width="2.7" stroke-dasharray="3.6 2.6"/>
</g>
<g font-size="15px" fill="#000">
<text x="85.5" y="70.8">Original LECs</text>
<text x="85.5" y="96.6">Fit 1 LECs</text>
<text x="85.5" y="122.4">Fit 2 LECs</text>
<text y="148.4"><tspan x="85.5">JHEP</tspan><tspan x="124.1 131.7 139.5">11,</tspan><tspan x="146.4 154.0 161.7">038</tspan><tspan x="173.8" textLength="38.7" lengthAdjust="spacingAndGlyphs">(2018)</tspan></text>
<text x="7.7" y="87.5" text-anchor="end" font-size="15.5px">6</text>
<text x="7.7" y="159.4" text-anchor="end" font-size="15.5px">4</text>
<text x="7.7" y="231.2" text-anchor="end" font-size="15.5px">2</text>
<text x="7.7" y="303.1" text-anchor="end" font-size="15.5px">0</text>
<text x="63.8" y="350.4" text-anchor="middle" font-size="15.4px">0.4</text>
<text x="169.6" y="350.4" text-anchor="middle" font-size="15.4px">0.6</text>
<text x="275.3" y="350.4" text-anchor="middle" font-size="15.4px">0.8</text>
<text x="381.1" y="350.4" text-anchor="middle" font-size="15.4px">1.0</text>
<text x="487.1" y="350.4" text-anchor="middle" font-size="15.4px">1.2</text>
</g>
<!-- x label -->
<g font-size="15px" fill="#000">
<path d="M218.4,370.5 L220.6,369.35 M223.95,377.6 L228.5,362.45 L238.2,362.45" fill="none" stroke="#000" stroke-width="0.75" stroke-linejoin="miter"/>
<path d="M220.05,369.7 L221.55,368.95 L224.5,375.8 L224.15,378.3 L223.6,378.3 Z" fill="#000"/>
<text x="229.7" y="376.75" font-style="italic">s</text>
<text x="244.0" y="376.7" textLength="36.4" lengthAdjust="spacingAndGlyphs">[GeV]</text>
</g>
<!-- title -->
<g fill="#000">
<path d="M197.6,24.2V35.9M301.3,24.2V35.9" stroke="#000" stroke-width="0.9" fill="none"/>
<g id="t1">
<text x="199.3" y="34" font-size="14.2px" font-style="italic" textLength="10.1" lengthAdjust="spacingAndGlyphs">F</text>
<text x="210.2" y="27.3" font-size="10.2px" textLength="10" lengthAdjust="spacingAndGlyphs">ud</text>
<text x="209.1" y="37" font-size="10.4px" font-style="italic" textLength="7" lengthAdjust="spacingAndGlyphs">T</text>
<text x="217.6" y="37" font-size="11.2px" font-style="italic" textLength="11.6" lengthAdjust="spacingAndGlyphs">ππ</text>
</g>
<text x="229.6" y="34" font-size="14.4px" textLength="21.6" lengthAdjust="spacingAndGlyphs">(s)/</text>
<g transform="translate(52,0)">
<text x="199.3" y="34" font-size="14.2px" font-style="italic" textLength="10.1" lengthAdjust="spacingAndGlyphs">F</text>
<text x="209.5" y="27.3" font-size="10.2px" textLength="10" lengthAdjust="spacingAndGlyphs">ud</text>
<text x="208.5" y="37" font-size="10.4px" font-style="italic" textLength="7" lengthAdjust="spacingAndGlyphs">T</text>
<text x="217.6" y="37" font-size="11.2px" font-style="italic" textLength="11.6" lengthAdjust="spacingAndGlyphs">ππ</text>
</g>
<text x="282" y="34" font-size="14.4px" textLength="17" lengthAdjust="spacingAndGlyphs">(0)</text>
</g>
</svg>
</body></html>
